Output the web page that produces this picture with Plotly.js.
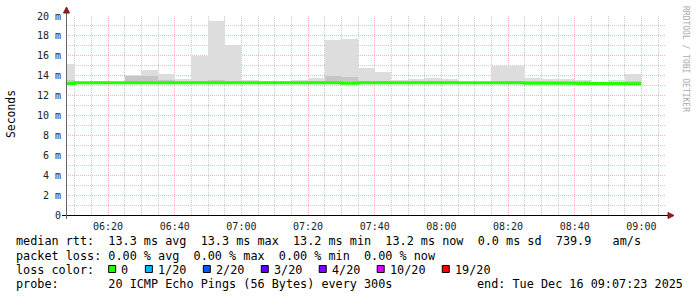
<!DOCTYPE html>
<html><head><meta charset="utf-8">
<script src="https://cdn.plot.ly/plotly-3.0.1.min.js"></script>
<style>html,body{margin:0;padding:0;background:#fff}#chart{width:697px;height:297px}</style>
</head><body><div id="chart"></div>
<script>
const day = '2025-12-16';
const binStarts = ['06:05','06:10','06:15','06:20','06:25','06:30','06:35','06:40','06:45','06:50','06:55',
  '07:00','07:05','07:10','07:15','07:20','07:25','07:30','07:35','07:40','07:45','07:50','07:55',
  '08:00','08:05','08:10','08:15','08:20','08:25','08:30','08:35','08:40','08:45','08:50','08:55'];
const smokeMax = [15.2,13.35,13.45,13.35,14.05,14.6,14.2,13.65,15.95,19.5,17.1,13.55,13.45,13.5,13.55,13.75,17.6,17.7,14.75,14.35,
  13.55,13.65,13.75,13.65,13.35,13.35,15.0,15.0,13.75,13.65,13.7,13.55,13.4,13.55,14.2];
const smokeMin = [13.1,13.2,13.2,13.2,13.2,13.2,13.2,13.2,13.2,13.2,13.2,13.2,13.2,13.2,13.2,13.2,13.15,13.15,13.2,13.2,
  13.2,13.2,13.2,13.2,13.2,13.2,13.18,13.2,13.15,13.15,13.15,13.12,13.12,13.12,13.1];
const smokeLow = [13.15,13.22,13.22,13.22,13.22,13.22,13.22,13.22,13.22,13.22,13.22,13.22,13.22,13.22,13.22,13.22,13.2,13.2,13.22,13.22,
  13.22,13.22,13.22,13.22,13.22,13.22,13.2,13.22,13.18,13.18,13.18,13.15,13.15,13.15,13.12];
const smokeHigh = [13.6,13.3,13.35,13.3,13.95,14.0,13.6,13.4,13.45,13.55,13.45,13.4,13.35,13.4,13.4,13.5,14.0,13.9,13.5,13.45,
  13.4,13.45,13.5,13.45,13.3,13.3,13.4,13.45,13.45,13.45,13.5,13.45,13.3,13.4,13.5];
const medianRtt = [13.22,13.3,13.3,13.3,13.3,13.3,13.3,13.3,13.28,13.3,13.3,13.3,13.3,13.3,13.3,13.3,13.3,13.25,13.3,13.3,
  13.3,13.3,13.3,13.3,13.3,13.3,13.28,13.3,13.25,13.25,13.25,13.22,13.22,13.22,13.2];
const rangeStart = '06:07:23', rangeEnd = '09:07:23';
const stepMinutes = 5;
const yTickVals = [0,2,4,6,8,10,12,14,16,18,20];
const yTickText = ['0','2 m','4 m','6 m','8 m','10 m','12 m','14 m','16 m','18 m','20 m'];
const rttLine = 'median rtt:  13.3 ms avg  13.3 ms max  13.2 ms min  13.2 ms now  0.0 ms sd  739.9   am/s';
const lossLine = 'packet loss: 0.00 % avg  0.00 % max  0.00 % min  0.00 % now';
const lossLabels = ['0','1/20','2/20','3/20','4/20','10/20','19/20'];
const lossColors = ['#26ff00','#00b8ff','#0059ff','#5e00ff','#7e00ff','#dd00ff','#ff0000'];
const probeLine = 'probe:       20 ICMP Echo Pings (56 Bytes) every 300s';
const endLine = 'end: Tue Dec 16 09:07:23 2025';
const sideText = 'RRDTOOL / TOBI OETIKER';

function pad(n){return (n<10?'0':'')+n;}
function addMin(hm, m){
  const p = hm.split(':').map(Number);
  const tot = (p[0]*60 + p[1] + (p[2]||0)/60 + m)*60;
  const hh = Math.floor(tot/3600), mm = Math.floor((tot%3600)/60), ss = Math.round(tot%60);
  return day+' '+pad(hh)+':'+pad(mm)+':'+pad(ss);
}
const centers = binStarts.map(s=>addMin(s, stepMinutes/2));
const stepX = binStarts.map(s=>addMin(s,0)).concat([addMin(binStarts[binStarts.length-1], stepMinutes)]);
const stepY = medianRtt.concat([medianRtt[medianRtt.length-1]]);
const barW = stepMinutes*60*1000;

const traces = [
  {type:'bar', x:centers, base:smokeMin, y:smokeMax.map((v,i)=>v-smokeMin[i]), width:barW,
   marker:{color:'#dddddd', line:{width:0}}, hoverinfo:'skip'},
  {type:'bar', x:centers, base:smokeLow, y:smokeHigh.map((v,i)=>v-smokeLow[i]), width:barW,
   marker:{color:'#c6c6c6', line:{width:0}}, hoverinfo:'skip'},
  {type:'scatter', mode:'lines', x:stepX, y:stepY, line:{shape:'hv', color:'#22ff00', width:3}, hoverinfo:'skip'}
];

const L=66, R=31, T=16, B=82, W=697-L-R, H=297-T-B;
const px = v => (v-L)/W, py = v => (T+H-v)/H;
const mono = 'DejaVu Sans Mono';
const nb = s => s.replace(/ /g,'\u00a0');
const cw = 7.09;
const ann = [];
const shapes = [];
function txt(x, y, s, opt){ ann.push(Object.assign({xref:'paper', yref:'paper', x:px(x), y:py(y), text:nb(s), showarrow:false,
  xanchor:'left', yanchor:'middle', borderpad:0, font:{family:mono, size:11.8, color:'#000'}}, opt||{})); }
txt(15, 241, rttLine);
txt(15, 255.5, lossLine);
txt(15, 269.5, 'loss color:');
let cur = 16 + 13*cw;
lossLabels.forEach((lab,i)=>{
  shapes.push({type:'rect', xref:'paper', yref:'paper', x0:px(cur+0.5), x1:px(cur+7.5), y0:py(265.5), y1:py(272.5),
    fillcolor:lossColors[i], line:{color:'#000', width:1}});
  txt(cur+12, 269.5, lab);
  cur = cur + 11 + lab.length*cw + 18.6;
});
txt(15, 284, probeLine);
txt(16+65*cw-1, 284, endLine);
ann.push({xref:'paper', yref:'paper', x:px(11), y:py(114), text:'Seconds', textangle:-90, showarrow:false,
  xanchor:'center', yanchor:'middle', font:{family:mono, size:11.4, color:'#000'}});
ann.push({xref:'paper', yref:'paper', x:px(686), y:py(59), text:nb(sideText), textangle:90, showarrow:false,
  xanchor:'center', yanchor:'middle', font:{family:mono, size:8, color:'#aaaaaa'}});

// axis lines and arrows
shapes.push({type:'line', xref:'paper', yref:'paper', x0:px(62), x1:px(668), y0:py(215.5), y1:py(215.5), line:{color:'#000', width:1}});
shapes.push({type:'line', xref:'paper', yref:'paper', x0:px(66.5), x1:px(66.5), y0:py(219), y1:py(10), line:{color:'#666', width:1}});
const arrowC = '#8b1a1a';
shapes.push({type:'path', xref:'paper', yref:'paper', path:'M'+px(63.5)+','+py(13)+' L'+px(69.5)+','+py(13)+' L'+px(66.5)+','+py(7)+' Z',
  fillcolor:arrowC, line:{color:arrowC, width:1}});
shapes.push({type:'path', xref:'paper', yref:'paper', path:'M'+px(668)+','+py(212.5)+' L'+px(668)+','+py(218.5)+' L'+px(674)+','+py(215.5)+' Z',
  fillcolor:arrowC, line:{color:arrowC, width:1}});

const layout = {
  width:697, height:297, margin:{l:L, r:R, t:T, b:B, pad:0},
  paper_bgcolor:'#fff', plot_bgcolor:'#fff', showlegend:false, barmode:'overlay', bargap:0,
  xaxis:{type:'date', range:[addMin(rangeStart,0), addMin(rangeEnd,0)], tickformat:'%H:%M',
    tick0:day+' 06:00:00', dtick:20*60*1000, ticks:'', showline:false, zeroline:false,
    showgrid:true, gridcolor:'#f2b6b6', griddash:'1px,1px', gridwidth:1,
    minor:{dtick:5*60*1000, showgrid:true, gridcolor:'#cccccc', griddash:'1px,1px', gridwidth:1},
    tickfont:{family:mono, size:10, color:'#222'}, ticklabelstandoff:4, fixedrange:true},
  yaxis:{range:[0,20], tickvals:yTickVals, ticktext:yTickText, ticks:'', showline:false, zeroline:false,
    showgrid:true, gridcolor:'#f2b6b6', griddash:'1px,1px', gridwidth:1,
    minor:{dtick:1, showgrid:true, gridcolor:'#cccccc', griddash:'1px,1px', gridwidth:1},
    tickfont:{family:mono, size:10, color:'#222'}, ticklabelstandoff:4, fixedrange:true},
  annotations:ann, shapes:shapes
};
Plotly.newPlot('chart', traces, layout, {staticPlot:true, displayModeBar:false});
</script></body></html>
